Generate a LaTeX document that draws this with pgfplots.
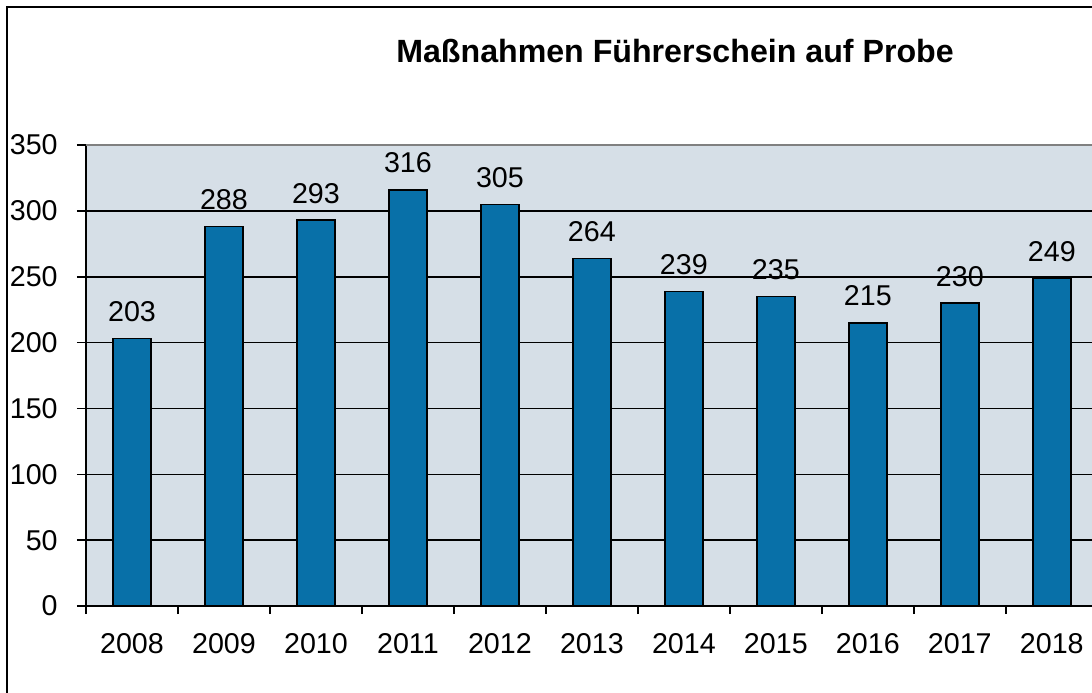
\documentclass[border=0pt]{standalone}
\usepackage{pgfplots}
\pgfplotsset{compat=1.18}
\usepackage{fontspec}
\setmainfont{Liberation Sans}
\definecolor{barblue}{RGB}{8,112,168}
\definecolor{plotbg}{RGB}{214,223,231}
\begin{document}
\begin{tikzpicture}[x=0.02cm,y=0.02cm]
\useasboundingbox (0,0) rectangle (1092,693);
\clip (0,0) rectangle (1092,693);
\fill[white] (0,0) rectangle (1092,693);
\draw[line width=0.04cm] (7,-20) -- (7,686) -- (1120,686);
\node[anchor=base, font=\fontsize{18.3}{21}\selectfont\bfseries, inner sep=0pt] at (675,630) {Maßnahmen Führerschein auf Probe};
\begin{axis}[
  at={(1.72cm,1.74cm)}, anchor=south west,
  scale only axis, width=20.24cm, height=9.22cm,
  xmin=-0.5, xmax=10.5, ymin=0, ymax=350,
  axis background/.style={fill=plotbg},
  axis x line*=bottom, axis y line*=left,
  axis line style={black, line width=0.03cm},
  ybar, bar width=0.76cm,
  xtick={0,...,10},
  xticklabels={2008,2009,2010,2011,2012,2013,2014,2015,2016,2017,2018},
  minor xtick={-0.5,0.5,...,10.5},
  major x tick style={draw=none},
  minor x tick style={black, line width=0.03cm},
  ytick={0,50,...,350},
  y tick style={black, line width=0.03cm},
  tick align=outside,
  major tick length=0.18cm, minor tick length=0.16cm,
  ymajorgrids, grid style={black, line width=0.03cm},
  /pgf/number format/assume math mode=true,
  tick label style={font=\fontsize{16.3}{19}\selectfont},
  x tick label style={inner sep=0pt, anchor=north, yshift=-0.36cm},
  y tick label style={inner sep=0pt, anchor=east, xshift=-0.38cm},
  nodes near coords,
  every node near coord/.append style={font=\fontsize{16.3}{19}\selectfont, inner sep=0pt, anchor=south, yshift=0.32cm},
  clip=false,
]
\addplot[fill=barblue, draw=black, line width=0.03cm] coordinates {
(0,203) (1,288) (2,293) (3,316) (4,305) (5,264) (6,239) (7,235) (8,215) (9,230) (10,249)};
\draw[gray, line width=0.04cm] (rel axis cs:0,1) -- (rel axis cs:1,1);
\end{axis}
\end{tikzpicture}
\end{document}
